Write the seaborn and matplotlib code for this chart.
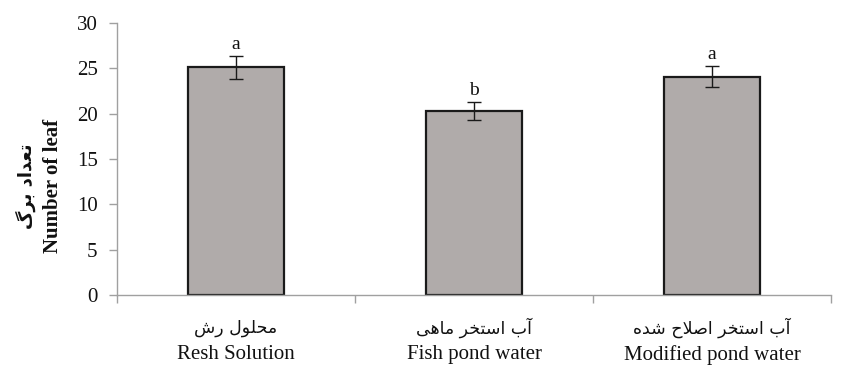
import matplotlib
matplotlib.use("Agg")
import matplotlib.pyplot as plt
import matplotlib.transforms as mtransforms
import seaborn as sns
import pandas as pd

# ---- data ----
labels_en = ["Resh Solution", "Fish pond water", "Modified pond water"]
labels_fa = ["محلول رش", "آب استخر ماهی", "آب استخر اصلاح شده"]
leaf_mean = [25.1, 20.3, 24.1]
leaf_err = [1.3, 1.0, 1.2]
groups = ["a", "b", "a"]
yticks = [0, 5, 10, 15, 20, 25, 30]

# ---- minimal Persian shaping (presentation forms + visual order) ----
FORMS = {
    "ا": ("\uFE8D", "\uFE8E", None, None),
    "آ": ("\uFE81", "\uFE82", None, None),
    "ب": ("\uFE8F", "\uFE90", "\uFE91", "\uFE92"),
    "ت": ("\uFE95", "\uFE96", "\uFE97", "\uFE98"),
    "ح": ("\uFEA1", "\uFEA2", "\uFEA3", "\uFEA4"),
    "خ": ("\uFEA5", "\uFEA6", "\uFEA7", "\uFEA8"),
    "د": ("\uFEA9", "\uFEAA", None, None),
    "ر": ("\uFEAD", "\uFEAE", None, None),
    "س": ("\uFEB1", "\uFEB2", "\uFEB3", "\uFEB4"),
    "ش": ("\uFEB5", "\uFEB6", "\uFEB7", "\uFEB8"),
    "ص": ("\uFEB9", "\uFEBA", "\uFEBB", "\uFEBC"),
    "ع": ("\uFEC9", "\uFECA", "\uFECB", "\uFECC"),
    "ل": ("\uFEDD", "\uFEDE", "\uFEDF", "\uFEE0"),
    "م": ("\uFEE1", "\uFEE2", "\uFEE3", "\uFEE4"),
    "ه": ("\uFEE9", "\uFEEA", "\uFEEB", "\uFEEC"),
    "و": ("\uFEED", "\uFEEE", None, None),
    "ی": ("\uFBFC", "\uFBFD", "\uFBFE", "\uFBFF"),
    "گ": ("\uFB92", "\uFB93", "\uFB94", "\uFB95"),
}


def joins_next(ch):
    return ch in FORMS and FORMS[ch][2] is not None


def shape(text):
    chars = list(text)
    out = []
    i = 0
    while i < len(chars):
        ch = chars[i]
        if ch not in FORMS:
            out.append(ch)
            i += 1
            continue
        prev_joins = i > 0 and joins_next(chars[i - 1])
        # lam-alef ligature
        if ch == "ل" and i + 1 < len(chars) and chars[i + 1] == "ا":
            out.append("\uFEFC" if prev_joins else "\uFEFB")
            i += 2
            continue
        nxt = chars[i + 1] if i + 1 < len(chars) else None
        next_joins = joins_next(ch) and nxt in FORMS
        iso, fin, ini, med = FORMS[ch]
        if prev_joins and next_joins:
            out.append(med)
        elif prev_joins:
            out.append(fin)
        elif next_joins:
            out.append(ini)
        else:
            out.append(iso)
        i += 1
    return "".join(reversed(out))


# ---- figure ----
sns.set_theme(style="white")
plt.rcParams["font.family"] = ["Liberation Serif", "DejaVu Sans"]

fig = plt.figure(figsize=(8.48, 3.72), dpi=100)
ax = fig.add_axes([0.138, 0.207, 0.842, 0.731])

df = pd.DataFrame({"cat": labels_en, "leaf": leaf_mean})
sns.barplot(data=df, x="cat", y="leaf", order=labels_en, color="#b0abaa",
            saturation=1, width=0.4, edgecolor="#1a1a1a", linewidth=1.6,
            errorbar=None, ax=ax)

xs = list(range(len(labels_en)))
ax.errorbar(xs, leaf_mean, yerr=leaf_err, fmt="none", ecolor="#1a1a1a",
            elinewidth=1.0, capsize=5, capthick=1.0, zorder=5)

for x, m, e, g in zip(xs, leaf_mean, leaf_err, groups):
    ax.text(x, m + e + 0.3, g, ha="center", va="bottom", fontsize=14,
            color="#111111", family="Liberation Serif")

ax.set_xlim(-0.5, 2.5)
ax.set_ylim(0, 30)
ax.set_yticks(yticks)
ax.set_yticklabels([str(t) for t in yticks], fontsize=15, color="#111111")

# category boundary ticks as minor ticks, labels at the centres
ax.set_xticks(xs)
ax.set_xticklabels(labels_en, fontsize=15, color="#111111")
ax.set_xticks([-0.5, 0.5, 1.5, 2.5], minor=True)
ax.tick_params(axis="x", which="major", length=0, pad=36)
ax.tick_params(axis="x", which="minor", length=6, width=1.0, color="#a0a0a0",
               direction="out", bottom=True)
ax.tick_params(axis="y", which="major", length=6, width=1.0, color="#a0a0a0",
               direction="out", left=True, pad=8)

trans = mtransforms.blended_transform_factory(ax.transData, ax.transAxes)
for x, lab in zip(xs, labels_fa):
    ax.text(x, -0.12, shape(lab), transform=trans, ha="center", va="center",
            fontsize=12.5, family="DejaVu Sans", color="#111111")

for side in ["top", "right"]:
    ax.spines[side].set_visible(False)
for side in ["left", "bottom"]:
    ax.spines[side].set_color("#a0a0a0")
    ax.spines[side].set_linewidth(1.0)
ax.grid(False)

# two-line y label: Persian and English
ax.set_xlabel("")
ax.set_ylabel("")
fig.text(0.030, 0.50, shape("تعداد برگ"), rotation=90, ha="center", va="center",
         fontsize=13, fontweight="bold", family="DejaVu Sans", color="#111111")
fig.text(0.063, 0.50, "Number of leaf", rotation=90, ha="center", va="center",
         fontsize=15, fontweight="bold", family="Liberation Serif", color="#111111")

fig.savefig("out.png", dpi=100)
